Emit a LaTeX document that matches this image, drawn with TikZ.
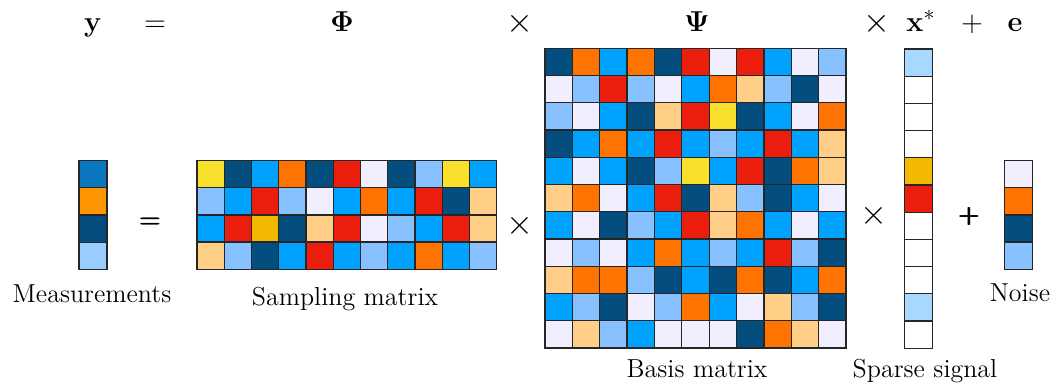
\documentclass[tikz,border=0pt]{standalone}
\usepackage{amsmath,amssymb}
\usepackage{xcolor}
\usepackage{tikz}
\usetikzlibrary{positioning}
% cell colours, one letter each
\definecolor{mD}{HTML}{034E7E}
\definecolor{mO}{HTML}{FF7300}
\definecolor{mB}{HTML}{00A2FF}
\definecolor{mR}{HTML}{EB1E0E}
\definecolor{mW}{HTML}{F1EEFF}
\definecolor{mL}{HTML}{87C1FF}
\definecolor{mP}{HTML}{FFCF88}
\definecolor{mY}{HTML}{F8E02C}
\definecolor{mG}{HTML}{F5B800}
\definecolor{mM}{HTML}{0A78BE}
\definecolor{mA}{HTML}{FF9500}
\definecolor{mS}{HTML}{99CCFF}
\definecolor{mC}{HTML}{A8D8FF}
\definecolor{mZ}{HTML}{FFFFFF}

% #1,#2: top left corner; #3,#4: cell size; #5: rows of colour letters
\newcommand{\cellgrid}[5]{%
  \foreach \cellrow [count=\ri] in {#5} {
    \foreach \cl [count=\ci] in \cellrow {
      \draw[cell,fill=m\cl] ({#1+(\ci-1)*#3},{#2+(\ri-1)*#4})
        rectangle +(#3,#4);
    }
  }%
}

\begin{document}
\begin{tikzpicture}[x=0.5pt,y=-0.5pt,
  cell/.style={draw=black!85,line width=0.65pt},
  sym/.style={inner sep=0pt,anchor=base,font=\fontsize{15.5}{18}\selectfont},
  op/.style={inner sep=0pt,font=\fontsize{17}{19}\selectfont},
  bigop/.style={inner sep=0pt,font=\fontsize{12}{14}\selectfont},
  lbl/.style={inner sep=0pt,anchor=base,font=\fontsize{13}{15}\selectfont}]
  \useasboundingbox (0,0) rectangle (1053,387);

  % top line of the model
  \node[sym] (ysym) at (93,31) {$\mathbf{y}$};
  \node[sym] (eqsym) at (155,31) {$=$};
  \node[sym] (phisym) at (342,31) {$\mathbf{\Phi}$};
  \node[op] (tsymA) at (520,24) {$\times$};
  \node[sym] (psisym) at (697,31) {$\mathbf{\Psi}$};
  \node[op] (tsymB) at (877,24) {$\times$};
  \node[sym] (xsym) at (921,31) {$\mathbf{x}^{*}$};
  \node[sym] (plsym) at (972,31) {$+$};
  \node[sym] (esym) at (1015,31) {$\mathbf{e}$};

  % measurements
  \cellgrid{79}{160.5}{28}{27.3}{{M},{A},{D},{S}}
  % sampling matrix
  \cellgrid{197}{160.5}{27.25}{27.2}{%
    {Y,D,B,O,D,R,W,D,L,Y,B},
    {L,B,R,L,W,B,O,B,R,D,P},
    {B,R,G,D,P,R,W,L,B,R,P},
    {P,L,D,B,R,B,L,B,O,B,L}}
  % basis matrix
  \cellgrid{545}{48.3}{27.36}{27.25}{%
    {D,O,B,O,D,R,W,R,B,W,L},
    {W,L,R,L,W,B,O,P,L,D,W},
    {L,W,B,D,P,R,Y,D,B,W,O},
    {D,B,O,B,R,B,L,B,R,B,P},
    {B,W,B,D,L,Y,B,R,D,O,P},
    {P,O,W,B,R,D,P,L,D,B,W},
    {B,W,D,L,B,R,P,O,B,W,B},
    {W,L,W,B,O,B,L,B,R,L,D},
    {P,O,O,L,D,B,D,O,D,B,O},
    {B,L,D,W,L,O,B,W,P,L,D},
    {W,P,L,B,W,W,W,D,O,P,W}}
  % sparse signal
  \cellgrid{904.3}{49}{28}{27.2}{{C},{Z},{Z},{Z},{G},{R},{Z},{Z},{Z},{C},{Z}}
  % noise
  \cellgrid{1004.3}{160.5}{28.3}{27.2}{{W},{O},{D},{L}}

  % operators between the blocks (heavy)
  \node[bigop] (eqop) at (150.5,223) {$\pmb{\boldsymbol{=}}$};
  \node[op] (timesA) at (520,225.5) {$\times$};
  \node[op] (timesB) at (873.5,215.5) {$\times$};
  \node[bigop,font=\fontsize{11.5}{14}\selectfont] (plusop) at (969.5,216.5)
    {$\pmb{\boldsymbol{+}}$};

  % captions
  \node[lbl] (meas) at (92,302) {Measurements};
  \node[lbl] (samp) at (345,305) {Sampling matrix};
  \node[lbl] (basis) at (697,377) {Basis matrix};
  \node[lbl] (sparse) at (925,377) {Sparse signal};
  \node[lbl] (noise) at (1020,301) {Noise};
\end{tikzpicture}
\end{document}
